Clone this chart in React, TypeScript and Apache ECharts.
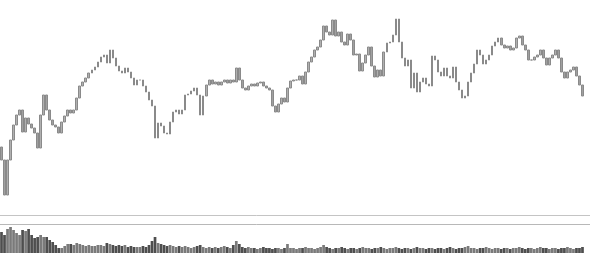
import React, { useEffect, useRef } from "react";
import * as echarts from "echarts";

const firstOpen = 14.8;
const closes = [
  13.5, 10.0, 13.5, 15.5, 17.0, 18.0, 18.5, 16.3, 17.7, 17.1, 16.7, 16.2, 14.7, 18.0, 20.0, 18.5, 17.5, 17.0, 16.8, 16.2,
  17.3, 17.9, 18.5, 18.2, 18.5, 19.7, 20.9, 21.3, 21.7, 22.2, 22.5, 22.8, 23.3, 23.8, 24.0, 23.2, 24.5, 23.7, 22.9, 22.4,
  22.2, 22.7, 22.3, 21.7, 21.0, 21.5, 21.5, 20.9, 20.3, 19.5, 18.9, 15.7, 17.2, 16.9, 16.2, 16.1, 17.3, 18.3, 18.5, 18.1,
  18.5, 20.0, 20.1, 20.4, 20.7, 20.0, 18.0, 19.9, 21.0, 21.5, 21.1, 21.3, 21.0, 21.3, 21.5, 21.2, 21.5, 21.3, 22.7, 21.5,
  20.7, 20.5, 20.9, 21.1, 20.9, 21.2, 21.3, 20.9, 20.7, 20.5, 18.9, 18.3, 19.1, 19.7, 19.3, 20.7, 21.4, 21.5, 21.5, 21.9,
  21.1, 22.3, 23.3, 23.8, 24.5, 24.8, 25.5, 26.9, 26.3, 26.0, 27.5, 25.9, 26.3, 25.3, 25.0, 26.1, 25.5, 24.0, 24.1, 22.4,
  23.2, 24.0, 24.8, 22.9, 21.8, 22.5, 21.9, 24.3, 25.2, 25.3, 26.0, 27.6, 25.3, 23.7, 22.9, 23.5, 20.7, 22.2, 20.3, 21.3,
  21.7, 21.1, 20.9, 23.9, 23.5, 22.3, 21.9, 22.7, 21.9, 21.7, 22.8, 21.3, 20.5, 19.7, 19.9, 21.3, 22.2, 23.1, 24.5, 24.0,
  23.1, 23.5, 24.0, 24.9, 25.3, 25.7, 25.0, 24.7, 24.9, 24.5, 24.7, 25.7, 25.9, 25.0, 24.5, 23.5, 23.5, 23.8, 24.0, 24.5,
  23.7, 23.0, 23.7, 24.0, 24.5, 23.7, 22.3, 21.7, 22.3, 22.5, 22.8, 21.9, 21.0, 19.9,
];
const volumes = [
  21, 18, 24, 26, 23, 20, 18, 23, 22, 24, 18, 15, 16, 18, 16, 16, 13, 11, 8, 5,
  5, 7, 9, 9, 8, 10, 9, 8, 7, 8, 7, 7, 8, 8, 7, 10, 9, 8, 7, 8,
  7, 8, 6, 7, 6, 6, 6, 7, 6, 8, 12, 16, 10, 9, 8, 7, 8, 7, 6, 7,
  6, 7, 6, 5, 6, 7, 8,
  6, 5, 6, 5, 6, 5, 6, 7, 6, 5,
  8, 12, 9, 6,
  5, 6, 5, 5, 4, 5, 6, 5, 5, 4, 5, 5, 4, 5,
  9,
  5, 5, 4, 5, 5, 6, 5, 5, 4, 5,
  6, 8, 6,
  5, 4, 5, 5, 6, 5, 4, 5, 5, 4, 5, 6,
  5, 5, 4, 5, 5, 6, 5, 4, 5, 5, 6, 5,
  4, 5, 5, 4, 5, 6, 5, 5, 4, 5, 5, 4,
  5, 5, 4, 5, 6, 5, 4, 5, 5, 6, 7, 5,
  5, 4, 5, 5, 6, 5, 4, 5, 5, 4, 5, 5,
  4, 5, 5, 6, 5, 4, 5, 5, 4, 5, 6, 5,
  5, 4, 5, 5, 4, 5, 5, 6, 5, 4, 5, 5, 6,
];
// two empty trailing slots: the axis runs on past the last candle
const trailingSlots = 2;
const categories = Array.from({ length: closes.length + trailingSlots }, (_, i) => String(i + 1));

export default function App() {
  const ref = useRef<HTMLDivElement>(null);
  useEffect(() => {
    if (!ref.current) return;
    const chart = echarts.init(ref.current, null, { renderer: "svg" });
    const opens = closes.map((c, i) => (i === 0 ? firstOpen : closes[i - 1]));
    const ohlc: any[] = closes.map((c, i) => {
      const o = opens[i];
      return [o, c, Math.min(o, c), Math.max(o, c)];
    });
    const vol: any[] = volumes.map((v, i) => ({
      value: v,
      itemStyle: { color: closes[i] >= opens[i] ? "#7a7a7a" : "#4e4e4e" },
    }));
    for (let k = 0; k < trailingSlots; k++) {
      ohlc.push("-");
      vol.push("-");
    }
    chart.setOption({
      animation: false,
      backgroundColor: "#ffffff",
      grid: [
        { left: 0, right: 0, top: 10, height: 205 },
        { left: 0, right: 0, top: 224, height: 29 },
      ],
      xAxis: [
        {
          type: "category",
          data: categories,
          gridIndex: 0,
          boundaryGap: true,
          axisLine: { show: true, onZero: false, lineStyle: { color: "#c4c4c4" } },
          axisTick: { show: false },
          axisLabel: { show: false },
          splitLine: { show: false },
        },
        {
          type: "category",
          data: categories,
          gridIndex: 1,
          position: "top",
          boundaryGap: true,
          axisLine: { show: true, onZero: false, lineStyle: { color: "#b8b8b8" } },
          axisTick: { show: false },
          axisLabel: { show: false },
          splitLine: { show: false },
        },
      ],
      yAxis: [
        { type: "value", gridIndex: 0, min: 8, max: 28.5, show: false },
        { type: "value", gridIndex: 1, min: 0, max: 29, show: false },
      ],
      series: [
        {
          type: "candlestick",
          xAxisIndex: 0,
          yAxisIndex: 0,
          data: ohlc,
          barWidth: "70%",
          itemStyle: {
            color: "#b0b0b0",
            color0: "#a0a0a0",
            borderColor: "#8a8a8a",
            borderColor0: "#8a8a8a",
            borderWidth: 1,
          },
        },
        {
          type: "bar",
          xAxisIndex: 1,
          yAxisIndex: 1,
          data: vol,
          barWidth: "90%",
        },
      ],
    });
    return () => chart.dispose();
  }, []);
  return <div ref={ref} style={{ width: 590, height: 255, position: "absolute", left: 0, top: 0 }} />;
}
